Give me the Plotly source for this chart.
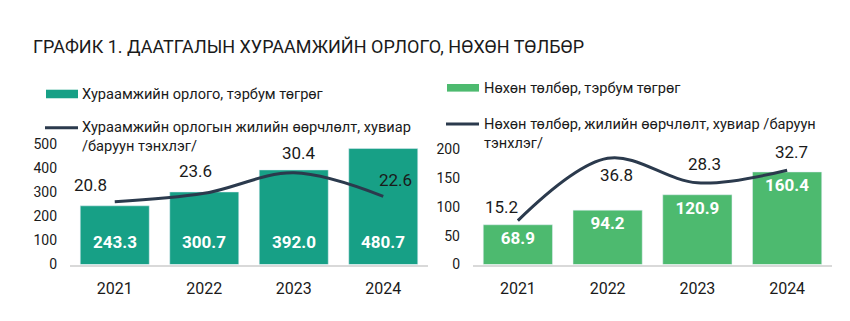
import plotly.graph_objects as go

# ---------------- data ----------------
years = ["2021", "2022", "2023", "2024"]
premium_income = [243.3, 300.7, 392.0, 480.7]      # тэрбум төгрөг
premium_growth = [20.8, 23.6, 30.4, 22.6]          # хувиар
claims_paid = [68.9, 94.2, 120.9, 160.4]           # тэрбум төгрөг
claims_growth = [15.2, 36.8, 28.3, 32.7]           # хувиар

title_text = "ГРАФИК 1. ДААТГАЛЫН ХУРААМЖИЙН ОРЛОГО, НӨХӨН ТӨЛБӨР"
legend_left = ["Хураамжийн орлого, тэрбум төгрөг",
               "Хураамжийн орлогын жилийн өөрчлөлт, хувиар<br>/баруун тэнхлэг/"]
legend_right = ["Нөхөн төлбөр, тэрбум төгрөг",
                "Нөхөн төлбөр, жилийн өөрчлөлт, хувиар /баруун<br>тэнхлэг/"]

# ---------------- style ----------------
W, H = 850, 321
FONT = "Roboto"
TXT = "#1a1a1a"
TEAL = "#17a086"
GREEN = "#4dba6f"
LINE = "#2b3a4d"
AXIS = "#d9d9d9"

# label offsets (pixels) for growth labels
left_shift = [(-24, 17), (-9, 22), (5, 20), (12, 16)]
right_shift = [(-16, 14), (9, -17), (7, 19), (4, 18)]


def px(x):
    return x / W


def py(y):
    return 1 - y / H


fig = go.Figure()

# Left chart
fig.add_trace(go.Bar(x=years, y=premium_income, marker_color=TEAL,
                     xaxis="x", yaxis="y", showlegend=False))
fig.add_trace(go.Scatter(x=years, y=premium_growth, mode="lines",
                         line=dict(color=LINE, width=3, shape="spline"),
                         xaxis="x", yaxis="y2", showlegend=False))
# Right chart
fig.add_trace(go.Bar(x=years, y=claims_paid, marker_color=GREEN,
                     text=[f"{v:.1f}" for v in claims_paid],
                     textposition="inside", insidetextanchor="end",
                     textangle=0, constraintext="none",
                     textfont=dict(family=FONT, size=17, color="white", weight="bold"),
                     xaxis="x2", yaxis="y3", showlegend=False))
fig.add_trace(go.Scatter(x=years, y=claims_growth, mode="lines",
                         line=dict(color=LINE, width=3, shape="spline"),
                         xaxis="x2", yaxis="y4", showlegend=False))

annotations = []
# left bar labels near base (category axes use serial index for annotations)
for i, v in enumerate(premium_income):
    annotations.append(dict(x=i, y=0, xref="x", yref="y", yshift=23,
                            text=f"{v:.1f}", showarrow=False, yanchor="middle",
                            font=dict(family=FONT, size=17, color="white", weight="bold")))
# growth labels
for i, (v, (dx, dy)) in enumerate(zip(premium_growth, left_shift)):
    annotations.append(dict(x=i, y=v, xref="x", yref="y2", xshift=dx, yshift=dy,
                            text=f"{v:.1f}", showarrow=False, yanchor="middle",
                            font=dict(family=FONT, size=17, color=TXT)))
for i, (v, (dx, dy)) in enumerate(zip(claims_growth, right_shift)):
    annotations.append(dict(x=i, y=v, xref="x2", yref="y4", xshift=dx, yshift=dy,
                            text=f"{v:.1f}", showarrow=False, yanchor="middle",
                            font=dict(family=FONT, size=17, color=TXT)))

# manual legends
shapes = []
leg_font = dict(family=FONT, size=14.6, color=TXT)
# left
shapes.append(dict(type="rect", xref="paper", yref="paper", x0=px(46), x1=px(78),
                   y0=py(95), y1=py(86), fillcolor=TEAL, line_width=0))
annotations.append(dict(x=px(80), y=py(91), xref="paper", yref="paper", text=legend_left[0],
                        showarrow=False, xanchor="left", yanchor="middle", font=leg_font))
shapes.append(dict(type="line", xref="paper", yref="paper", x0=px(45), x1=px(78),
                   y0=py(126), y1=py(126), line=dict(color=LINE, width=3)))
annotations.append(dict(x=px(80), y=py(114), xref="paper", yref="paper", text=legend_left[1],
                        showarrow=False, xanchor="left", yanchor="top", align="left", font=leg_font))
# right
shapes.append(dict(type="rect", xref="paper", yref="paper", x0=px(447), x1=px(479),
                   y0=py(88), y1=py(80), fillcolor=GREEN, line_width=0))
annotations.append(dict(x=px(482), y=py(84), xref="paper", yref="paper", text=legend_right[0],
                        showarrow=False, xanchor="left", yanchor="middle", font=leg_font))
shapes.append(dict(type="line", xref="paper", yref="paper", x0=px(446), x1=px(479),
                   y0=py(122), y1=py(122), line=dict(color=LINE, width=3)))
annotations.append(dict(x=px(482), y=py(111), xref="paper", yref="paper", text=legend_right[1],
                        showarrow=False, xanchor="left", yanchor="top", align="left", font=leg_font))

xcommon = dict(type="category", range=[-0.5, len(years) - 0.5],
               showline=True, linecolor=AXIS, linewidth=1.5,
               ticks="", showgrid=False, zeroline=False,
               tickfont=dict(family=FONT, size=16, color=TXT), ticklabelstandoff=9)
ycommon = dict(showgrid=False, zeroline=False, showline=False, ticks="",
               tickfont=dict(family=FONT, size=14, color=TXT), ticklabelstandoff=12)

fig.update_layout(
    width=W, height=H,
    margin=dict(l=0, r=0, t=0, b=0),
    paper_bgcolor="white", plot_bgcolor="white",
    font=dict(family=FONT, color=TXT),
    bargap=0.229,
    title=dict(text=title_text, x=px(33), xanchor="left", y=py(47), yanchor="middle",
               font=dict(family=FONT, size=18, color=TXT)),
    xaxis=dict(domain=[px(70), px(428)], anchor="y", **xcommon),
    yaxis=dict(domain=[py(270), py(143)], range=[0, 500], dtick=100, anchor="x", **ycommon),
    yaxis2=dict(range=[0, 40], overlaying="y", anchor="x", side="right", visible=False),
    xaxis2=dict(domain=[px(473), px(832)], anchor="y3", **xcommon),
    yaxis3=dict(domain=[py(270), py(148.5)], range=[0, 200], dtick=50, anchor="x2", **ycommon),
    yaxis4=dict(range=[0, 40], overlaying="y3", anchor="x2", side="right", visible=False),
    annotations=annotations,
    shapes=shapes,
)

fig.write_html("out.html")
